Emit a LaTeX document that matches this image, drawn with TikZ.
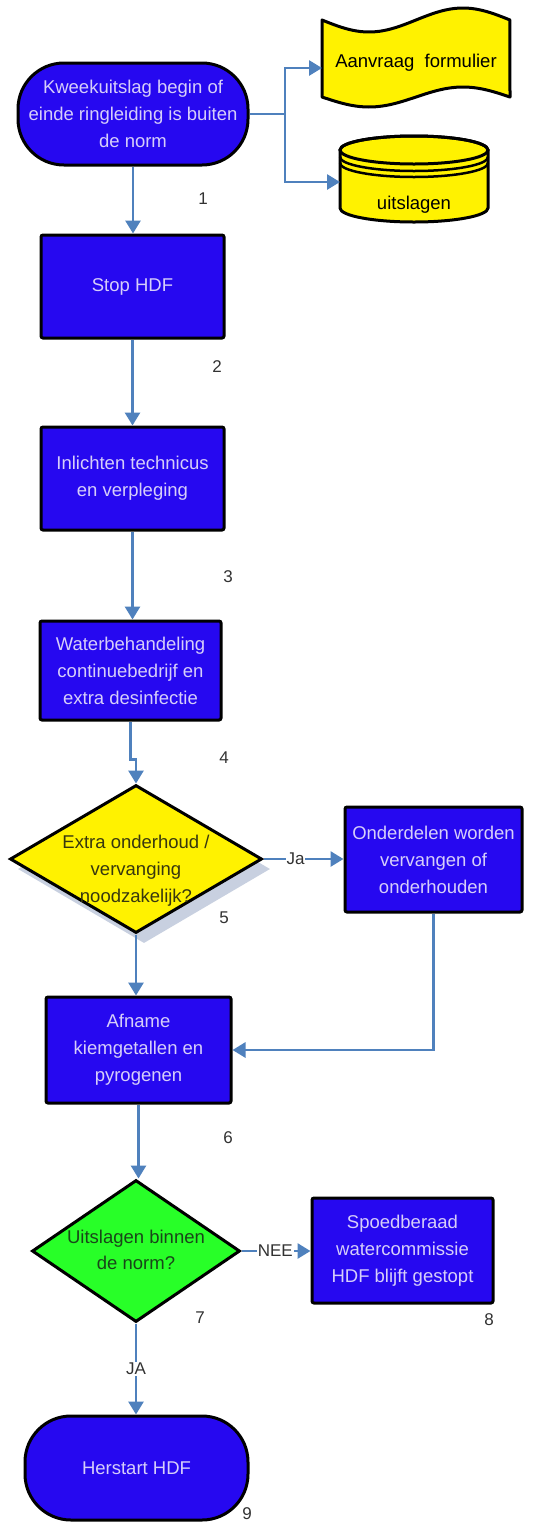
\documentclass[tikz,border=0pt]{standalone}
\usepackage{fontspec}
\setmainfont{Liberation Sans}
\usetikzlibrary{shapes.geometric,arrows.meta,calc}
\definecolor{boxblue}{RGB}{38,8,240}
\definecolor{boxtext}{RGB}{214,206,250}
\definecolor{connblue}{RGB}{79,129,189}
\definecolor{dgreen}{RGB}{40,255,40}
\definecolor{shadowc}{RGB}{200,208,224}
\definecolor{numgray}{RGB}{50,50,50}
\definecolor{ytext}{RGB}{55,55,15}
\definecolor{gtext}{RGB}{25,70,25}
\newcommand\bxfont{\fontsize{18.5}{27}\selectfont}
\newcommand\nmfont{\fontsize{17}{20}\selectfont}
\begin{document}
\begin{tikzpicture}[x=1pt,y=-1pt,
  proc/.style={draw=black,line width=3pt,fill=boxblue,text=boxtext,font=\bxfont,align=center,inner sep=0pt,rounded corners=2pt},
  term/.style={proc,rounded corners=46pt},
  dec/.style={diamond,draw=black,line width=3pt,inner sep=0pt},
  conn/.style={draw=connblue,line width=2.8pt,-{Triangle[width=15pt,length=13pt]}},
  plain/.style={draw=connblue,line width=2.8pt},
  num/.style={text=numgray,font=\nmfont},
  lbl/.style={text=numgray,font=\nmfont,fill=white,inner sep=1pt}]
\useasboundingbox (0,0) rectangle (533,1524);
\fill[white] (0,0) rectangle (533,1524);

% start
\node[term,minimum width=230pt,minimum height=102pt] (start) at (133,114) {Kweekuitslag begin of\\einde ringleiding is buiten\\de norm};

% tape
\path[draw=black,line width=3pt,fill=yellow,line join=round]
  plot[domain=0:1,samples=50] ({322+188*\x},{20+12*sin(360*\x)})
  -- plot[domain=1:0,samples=50] ({322+188*\x},{97+10*sin(360*\x)}) -- cycle;
\node[font=\bxfont,text=black] (tape) at (416,63) {Aanvraag~~formulier};
\coordinate (tapeW) at (322,68);

% cylinder
\path[draw=black,line width=3pt,fill=yellow]
  (340,150) -- (340,208) arc[start angle=180,end angle=0,x radius=74,y radius=14]
  -- (488,150) arc[start angle=0,end angle=-180,x radius=74,y radius=14] -- cycle;
\draw[black,line width=3pt] (414,150) ellipse[x radius=74,y radius=14];
\draw[black,line width=2.5pt] (340,157) arc[start angle=180,end angle=0,x radius=74,y radius=14];
\draw[black,line width=2.5pt] (340,163) arc[start angle=180,end angle=0,x radius=74,y radius=14];
\node[font=\bxfont,text=black] (uits) at (414,205) {uitslagen};
\coordinate (cylW) at (340,182);

\coordinate (br) at (285,114);
\draw[plain] (start.east) -- (br);
\draw[conn] (br) |- (tapeW);
\draw[conn] (br) |- (cylW);
\node[num] (n1) at (203,199) {1};

% stop
\node[proc,minimum width=183pt,minimum height=103pt] (stop) at (132.5,286.5) {Stop HDF};
\draw[conn] (start.south) -- (start.south |- stop.north);
\node[num] (n2) at (217,367) {2};

\node[proc,minimum width=183pt,minimum height=103pt] (inl) at (132.5,478.5) {Inlichten technicus\\en verpleging};
\draw[conn] (stop.south) -- (stop.south |- inl.north);
\node[num] (n3) at (228,577) {3};

\node[proc,minimum width=181pt,minimum height=99pt] (water) at (130.5,670.5) {Waterbehandeling\\continuebedrijf en\\extra desinfectie};
\draw[conn] (inl.south) -- (inl.south |- water.north);
\node[num] (n4) at (224,758) {4};

% yellow decision
\node[diamond,fill=shadowc,inner sep=0pt,minimum width=252pt,minimum height=148pt] (shadow) at (144,869) {};
\node[dec,fill=yellow,minimum width=252pt,minimum height=148pt] (yd) at (136,859) {};
\node[font=\bxfont,text=ytext,align=center] (ydt) at (136,871) {Extra onderhoud /\\vervanging\\noodzakelijk?};
\draw[conn] (water.south) -- ++(0,38) -| (yd.north);
\node[num] (n5) at (224,918) {5};

\node[proc,minimum width=177pt,minimum height=105pt] (onder) at (433.5,859.5) {Onderdelen worden\\vervangen of\\onderhouden};
\draw[conn] (yd.east) -- node[lbl,pos=0.4] {Ja} (yd.east -| onder.west);

\node[proc,minimum width=185pt,minimum height=106pt] (afname) at (138.5,1050) {Afname\\kiemgetallen en\\pyrogenen};
\draw[conn] (yd.south) -- (yd.south |- afname.north);
\draw[conn] (onder.south) |- (afname.east);
\node[num] (n6) at (228,1138) {6};

% green decision
\node[dec,fill=dgreen,minimum width=208pt,minimum height=142pt] (gd) at (136,1251) {};
\node[font=\fontsize{18.5}{26}\selectfont,text=gtext,align=center] (gdt) at (136,1250) {Uitslagen binnen\\de norm?};
\draw[conn] (afname.south) -- (afname.south |- gd.north);
\node[num] (n7) at (200,1318) {7};

\node[proc,minimum width=181pt,minimum height=105pt] (spoed) at (402.5,1250.5) {Spoedberaad\\watercommissie\\HDF blijft gestopt};
\draw[conn] (gd.east) -- node[lbl,pos=0.49] {NEE} (gd.east -| spoed.west);
\node[num] (n8) at (489,1320) {8};

\node[term,minimum width=223pt,minimum height=104pt] (herstart) at (136.5,1468) {Herstart HDF};
\draw[conn] (gd.south) -- node[lbl,pos=0.5] {JA} (gd.south |- herstart.north);
\node[num,anchor=south] (n9) at (247,1523) {9};
\end{tikzpicture}
\end{document}
